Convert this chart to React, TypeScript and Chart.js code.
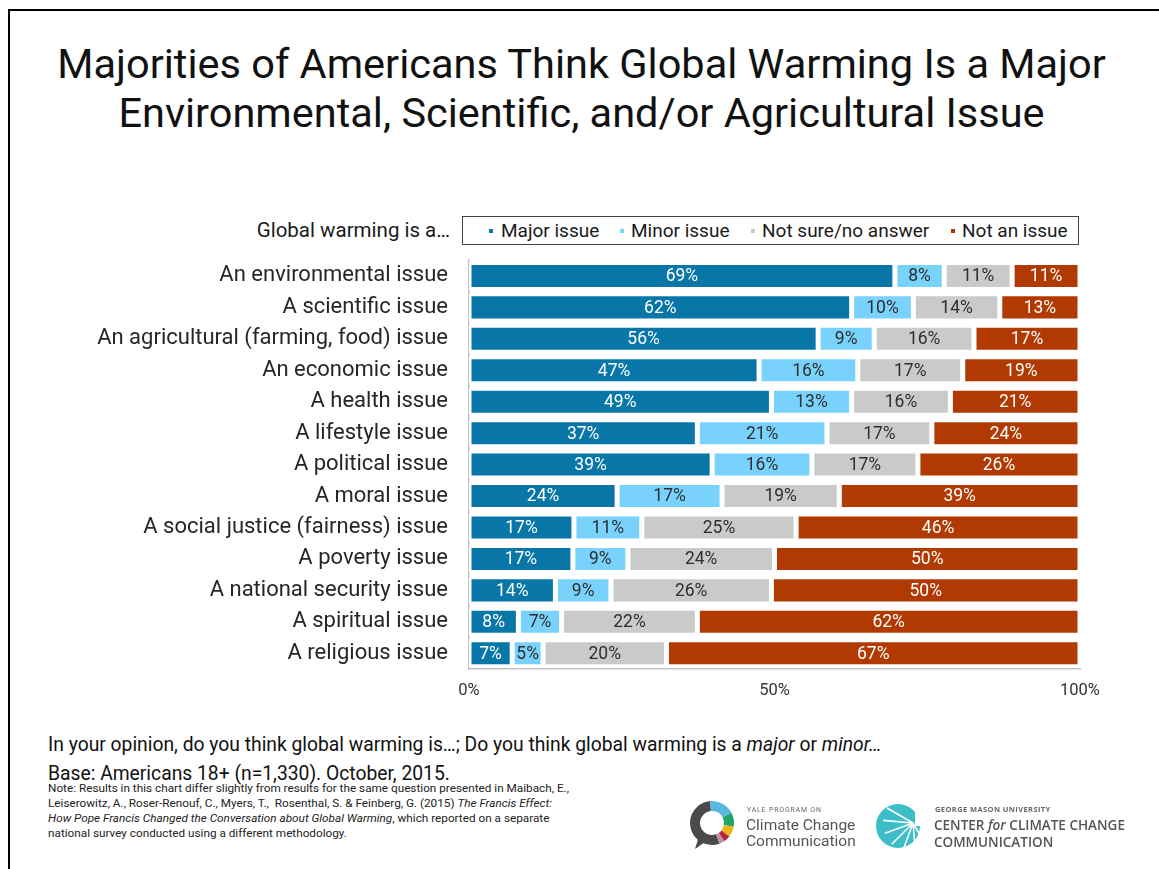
import React, { useEffect, useRef } from 'react';
import { Chart, registerables } from 'chart.js';
Chart.register(...registerables);

const categories = [
  'An environmental issue',
  'A scientific issue',
  'An agricultural (farming, food) issue',
  'An economic issue',
  'A health issue',
  'A lifestyle issue',
  'A political issue',
  'A moral issue',
  'A social justice (fairness) issue',
  'A poverty issue',
  'A national security issue',
  'A spiritual issue',
  'A religious issue',
];
const majorIssue = [69, 62, 56, 47, 49, 37, 39, 24, 17, 17, 14, 8, 7];
const minorIssue = [8, 10, 9, 16, 13, 21, 16, 17, 11, 9, 9, 7, 5];
const notSure = [11, 14, 16, 17, 16, 17, 17, 19, 25, 24, 26, 22, 20];
const notAnIssue = [11, 13, 17, 19, 21, 24, 26, 39, 46, 50, 50, 62, 67];
const seriesNames = ['Major issue', 'Minor issue', 'Not sure/no answer', 'Not an issue'];
const xTickValues = [0, 50, 100];

const seriesColors = ['#0877a8', '#79d2fb', '#cacaca', '#b03a02'];
const labelColors = ['#ffffff', '#2e2e2e', '#2e2e2e', '#ffffff'];

const rawSeries = [majorIssue, minorIssue, notSure, notAnIssue];

const segLabelPlugin = {
  id: 'segLabels',
  afterDatasetsDraw(chart: any) {
    const ctx = chart.ctx;
    ctx.save();
    ctx.font = '17.5px Roboto';
    ctx.textAlign = 'center';
    ctx.textBaseline = 'middle';
    chart.data.datasets.forEach((_ds: any, di: number) => {
      const meta = chart.getDatasetMeta(di);
      meta.data.forEach((bar: any, i: number) => {
        const x = (bar.x + bar.base) / 2;
        ctx.fillStyle = labelColors[di];
        ctx.fillText(rawSeries[di][i] + '%', x, bar.y + 1);
      });
    });
    ctx.restore();
  },
};

function arcPath(cx: number, cy: number, r: number, a0: number, a1: number) {
  const p = (a: number) => {
    const rad = ((a - 90) * Math.PI) / 180;
    return [cx + r * Math.cos(rad), cy + r * Math.sin(rad)];
  };
  const [x0, y0] = p(a0);
  const [x1, y1] = p(a1);
  const large = a1 - a0 > 180 ? 1 : 0;
  return `M ${x0} ${y0} A ${r} ${r} 0 ${large} 1 ${x1} ${y1}`;
}

export default function App() {
  const ref = useRef<HTMLCanvasElement>(null);

  useEffect(() => {
    const totals = categories.map((_, i) => rawSeries.reduce((s, a) => s + a[i], 0));
    const chart = new Chart(ref.current!, {
      type: 'bar',
      data: {
        labels: categories,
        datasets: rawSeries.map((arr, k) => ({
          label: seriesNames[k],
          data: arr.map((v, i) => (v / totals[i]) * 100),
          backgroundColor: seriesColors[k],
          borderColor: '#ffffff',
          borderWidth: 2.5,
          borderSkipped: false,
          barPercentage: 0.86,
          categoryPercentage: 1,
        })),
      },
      options: {
        indexAxis: 'y',
        responsive: false,
        animation: false,
        layout: { padding: { top: 0, right: 79, left: 0, bottom: 0 } },
        plugins: {
          legend: { display: false },
          tooltip: { enabled: false },
          title: { display: false },
        },
        scales: {
          x: {
            stacked: true,
            min: 0,
            max: 100,
            afterFit: (s: any) => {
              s.height = 53;
            },
            afterBuildTicks: (s: any) => {
              s.ticks = xTickValues.map((v) => ({ value: v }));
            },
            grid: { display: false, drawTicks: false },
            border: { display: true, color: '#c4c4c4', width: 1.5 },
            ticks: {
              autoSkip: false,
              maxRotation: 0,
              padding: 12,
              color: '#333333',
              font: { size: 16.5, family: 'Roboto' },
              callback: (v: any) => v + '%',
            },
          },
          y: {
            stacked: true,
            afterFit: (s: any) => {
              s.width = 469;
            },
            grid: { display: false, drawTicks: false },
            border: { display: true, color: '#c4c4c4', width: 1.5 },
            ticks: {
              autoSkip: false,
              padding: 21,
              color: '#262626',
              font: { size: 22, family: 'Roboto' },
            },
          },
        },
      },
      plugins: [segLabelPlugin],
    });
    return () => chart.destroy();
  }, []);

  const legendItems = [
    { x: 489, tx: 501 },
    { x: 620, tx: 631 },
    { x: 751, tx: 762 },
    { x: 951, tx: 962 },
  ];

  const yaleSegs: [number, number, string][] = [
    [-5, 62, '#5ab7df'],
    [62, 100, '#1ea66b'],
    [100, 128, '#f1b51c'],
    [128, 146, '#b6283b'],
    [146, 160, '#c98aad'],
  ];

  return (
    <div
      style={{
        position: 'absolute',
        left: 0,
        top: 0,
        width: 1159,
        height: 869,
        overflow: 'hidden',
        background: '#ffffff',
        fontFamily: 'Roboto, sans-serif',
        color: '#111',
      }}
    >
      {/* frame */}
      <div style={{ position: 'absolute', left: 8, top: 9, width: 1151, height: 860, borderTop: '2px solid #000', borderLeft: '2px solid #000' }} />

      {/* title */}
      <div
        style={{
          position: 'absolute',
          left: 0,
          top: 39,
          width: 1163,
          textAlign: 'center',
          fontSize: 41.5,
          lineHeight: '49px',
          color: '#111',
          whiteSpace: 'nowrap',
        }}
      >
        Majorities of Americans Think Global Warming Is a Major
        <br />
        Environmental, Scientific, and/or Agricultural Issue
      </div>

      {/* legend */}
      <div style={{ position: 'absolute', right: 1159 - 450, top: 218, fontSize: 20.5, color: '#1a1a1a', whiteSpace: 'nowrap' }}>
        Global warming is a…
      </div>
      <div style={{ position: 'absolute', left: 462, top: 216, width: 615, height: 27, border: '1px solid #444' }} />
      {legendItems.map((it, k) => (
        <React.Fragment key={k}>
          <div style={{ position: 'absolute', left: it.x, top: 229, width: 4, height: 4, background: seriesColors[k] }} />
          <div style={{ position: 'absolute', left: it.tx, top: 219, fontSize: 19, color: '#1a1a1a', whiteSpace: 'nowrap' }}>
            {seriesNames[k]}
          </div>
        </React.Fragment>
      ))}

      {/* chart */}
      <canvas ref={ref} width={1159} height={496} style={{ position: 'absolute', left: 0, top: 226, width: 1159, height: 496 }} />

      {/* footer */}
      <div style={{ position: 'absolute', left: 48, top: 733, fontSize: 19.3, color: '#111', whiteSpace: 'nowrap' }}>
        In your opinion, do you think global warming is…; Do you think global warming is a <i>major</i> or <i>minor…</i>
      </div>
      <div style={{ position: 'absolute', left: 48, top: 762, fontSize: 19.3, color: '#111', whiteSpace: 'nowrap' }}>
        Base: Americans 18+ (n=1,330). October, 2015.
      </div>
      <div style={{ position: 'absolute', left: 48, top: 781, fontSize: 11.75, lineHeight: '15px', color: '#222', whiteSpace: 'nowrap' }}>
        Note: Results in this chart differ slightly from results for the same question presented in Maibach, E.,
        <br />
        Leiserowitz, A., Roser-Renouf, C., Myers, T.,&nbsp; Rosenthal, S. &amp; Feinberg, G. (2015) <i>The Francis Effect:</i>
        <br />
        <i>How Pope Francis Changed the Conversation about Global Warming</i>, which reported on a separate
        <br />
        national survey conducted using a different methodology.
      </div>

      {/* logos */}
      <svg style={{ position: 'absolute', left: 0, top: 0 }} width={1159} height={869}>
        <path d={arcPath(712, 823, 17, 160, 355)} stroke="#4a4a4a" strokeWidth={10} fill="none" />
        {yaleSegs.map(([a, b, c], i) => (
          <path key={i} d={arcPath(712, 823, 17, a, b)} stroke={c} strokeWidth={10} fill="none" />
        ))}
        <path d="M 699 836 L 695 849 L 708 840 Z" fill="#4a4a4a" />
        <text x={747} y={812} fontSize={7} fill="#666" fontFamily="Roboto" letterSpacing={0.8}>YALE PROGRAM ON</text>
        <text x={746} y={830} fontSize={15.5} fill="#555" fontFamily="Roboto">Climate Change</text>
        <text x={746} y={846} fontSize={15.5} fill="#555" fontFamily="Roboto">Communication</text>

        <circle cx={898} cy={826} r={22} fill="#3dbdc7" />
        {[150, 175, 200, 225, 250, 275, 300].map((a, i) => {
          const rad = (a * Math.PI) / 180;
          return (
            <line key={i} x1={913} y1={823} x2={913 + 30 * Math.cos(rad)} y2={823 - 30 * Math.sin(rad)} stroke="#fff" strokeWidth={1.6} />
          );
        })}
        <rect x={915} y={800} width={12} height={26} fill="#fff" />
        <text x={935} y={812} fontSize={7.5} fill="#666" fontFamily="Open Sans" fontWeight={700} letterSpacing={0.4}>GEORGE MASON UNIVERSITY</text>
        <text x={934} y={830} fontSize={13.5} fill="#555" fontFamily="Open Sans" fontWeight={600}>
          CENTER <tspan fontStyle="italic">for</tspan> CLIMATE CHANGE
        </text>
        <text x={934} y={847} fontSize={13.5} fill="#555" fontFamily="Open Sans" fontWeight={600}>COMMUNICATION</text>
      </svg>
    </div>
  );
}
